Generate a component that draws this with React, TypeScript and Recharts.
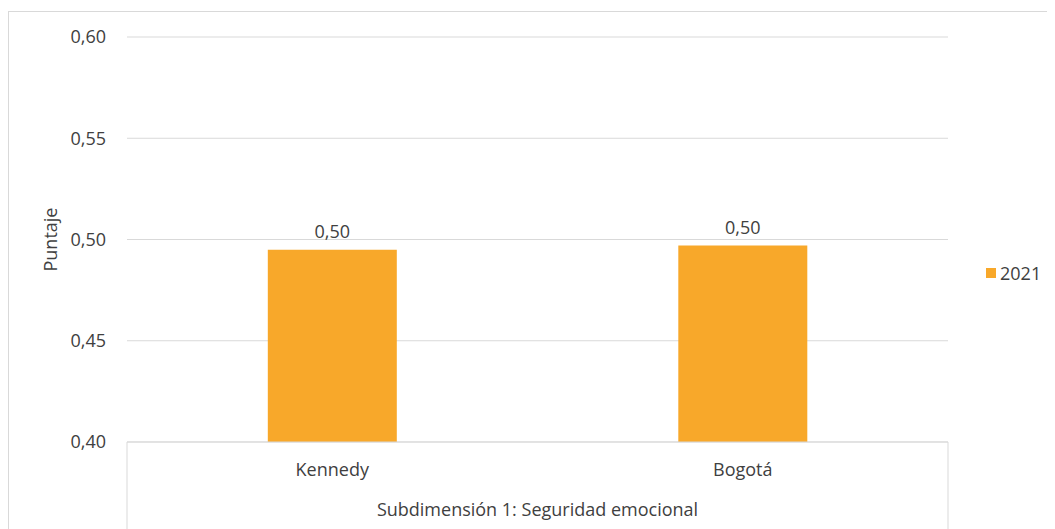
import { BarChart, Bar, XAxis, YAxis, CartesianGrid, Legend, LabelList } from 'recharts';

const categories = ['Kennedy', 'Bogotá'];
const values2021 = [0.495, 0.497];
const yTicks = [0.4, 0.45, 0.5, 0.55, 0.6];
const groupLabel = 'Subdimensión 1: Seguridad emocional';
const seriesName = '2021';

const data = categories.map((name, i) => ({ name, v2021: values2021[i] }));

const FONT = '"Open Sans", "Noto Sans", sans-serif';
const FS = 18;
const TEXT = '#404040';
const LINE = '#d9d9d9';
const ORANGE = '#f8a82a';

// two decimals with a comma, half-up like Excel
const comma = (v: number) => (Math.round(v * 100 + 1e-7) / 100).toFixed(2).replace('.', ',');

// category tick + bracket lines of the Excel style axis box
// eslint-disable-next-line @typescript-eslint/no-explicit-any
function CategoryTick({ x, y, payload, index, visibleTicksCount }: any) {
  const half = payload?.offset ?? 0;
  const last = index === visibleTicksCount - 1;
  return (
    <g>
      {index === 0 && <line x1={x - half} x2={x - half} y1={y} y2={y + 100} stroke={LINE} />}
      {last && <line x1={x + half} x2={x + half} y1={y} y2={y + 100} stroke={LINE} />}
      <text x={x} y={y + 28} dy="0.35em" textAnchor="middle" fill={TEXT} fontSize={FS} fontFamily={FONT}>
        {payload.value}
      </text>
    </g>
  );
}

// eslint-disable-next-line @typescript-eslint/no-explicit-any
function LegendBox({ payload }: any) {
  return (
    <div style={{ fontFamily: FONT, fontSize: FS, color: TEXT }}>
      {(payload ?? []).map((p: { value: string; color: string }) => (
        <div key={p.value} style={{ display: 'flex', alignItems: 'center' }}>
          <span style={{ width: 10, height: 10, background: p.color, display: 'inline-block', marginRight: 4 }} />
          <span>{p.value}</span>
        </div>
      ))}
    </div>
  );
}

export default function App() {
  return (
    <div
      style={{
        position: 'relative',
        width: 1050,
        height: 530,
        marginTop: 3,
        border: `1px solid ${LINE}`,
        boxSizing: 'border-box',
        fontFamily: FONT,
      }}
    >
      <BarChart
        width={1048}
        height={528}
        data={data}
        margin={{ top: 25, right: 109, left: 20, bottom: 0 }}
        barCategoryGap="34.3%"
      >
        <CartesianGrid vertical={false} stroke={LINE} />
        <XAxis
          dataKey="name"
          axisLine={{ stroke: LINE }}
          tickLine={false}
          tickSize={0}
          tickMargin={0}
          height={98}
          interval={0}
          tick={<CategoryTick />}
          label={{
            // eslint-disable-next-line @typescript-eslint/no-explicit-any
            content: ({ viewBox }: any) => (
              <text
                x={viewBox.x + viewBox.width / 2}
                y={viewBox.y + 68}
                dy="0.35em"
                textAnchor="middle"
                fill={TEXT}
                fontSize={FS}
                fontFamily={FONT}
              >
                {groupLabel}
              </text>
            ),
          }}
        />
        <YAxis
          domain={[0.4, 0.6]}
          ticks={yTicks}
          tickFormatter={comma}
          axisLine={false}
          tickLine={false}
          tickMargin={15}
          width={98}
          tick={{ fill: TEXT, fontSize: FS, fontFamily: FONT }}
          label={{
            // eslint-disable-next-line @typescript-eslint/no-explicit-any
            content: ({ viewBox }: any) => {
              const cx = viewBox.x + 22;
              const cy = viewBox.y + viewBox.height / 2;
              return (
                <text
                  x={cx}
                  y={cy}
                  dy="0.35em"
                  textAnchor="middle"
                  transform={`rotate(-90 ${cx} ${cy})`}
                  fill={TEXT}
                  fontSize={FS}
                  fontFamily={FONT}
                >
                  Puntaje
                </text>
              );
            },
          }}
        />
        <Legend
          layout="horizontal"
          align="center"
          verticalAlign="middle"
          content={<LegendBox />}
          wrapperStyle={{ left: 977, top: 249, width: 80 }}
        />
        <Bar dataKey="v2021" name={seriesName} fill={ORANGE} isAnimationActive={false}>
          <LabelList
            dataKey="v2021"
            position="top"
            offset={12}
            formatter={(v: number) => comma(v)}
            fill={TEXT}
            fontSize={FS}
            fontFamily={FONT}
          />
        </Bar>
      </BarChart>
    </div>
  );
}
